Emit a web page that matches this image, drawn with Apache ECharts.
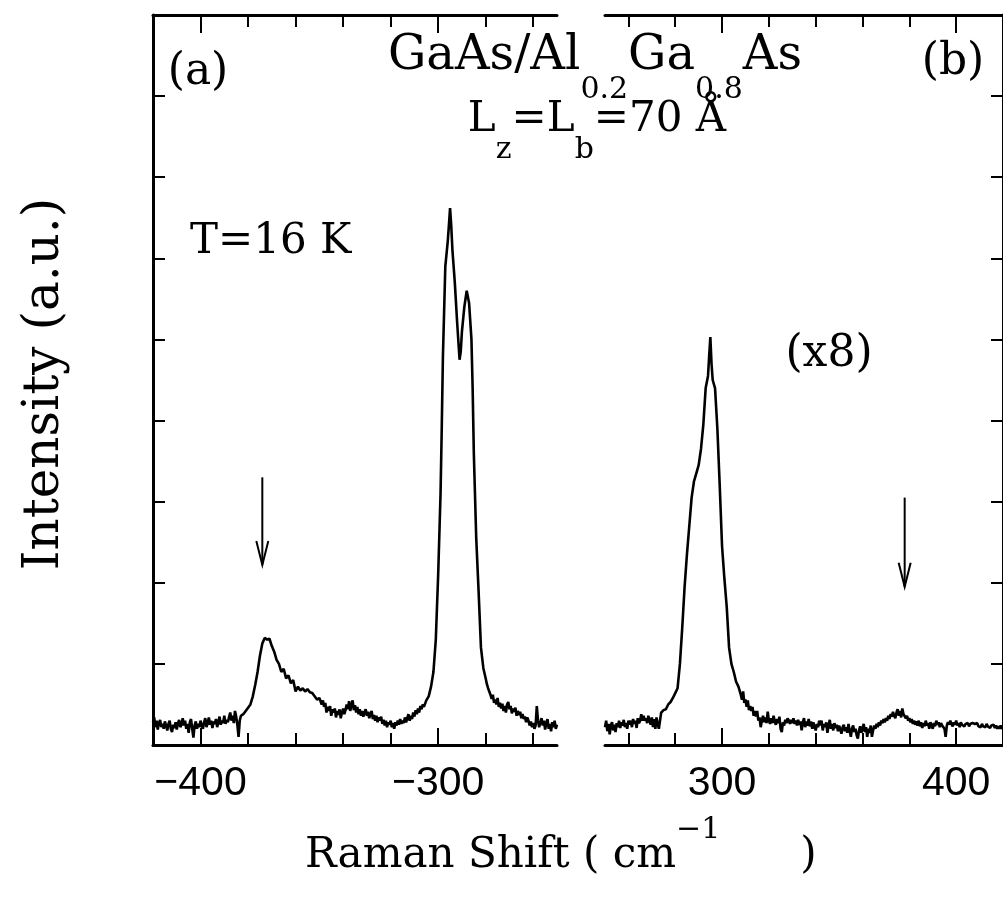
<!DOCTYPE html>
<html>
<head>
<meta charset="utf-8">
<script src="https://cdn.jsdelivr.net/npm/echarts@6/dist/echarts.min.js"></script>
<style>
html,body{margin:0;padding:0;background:#fff;}
#main{width:1003px;height:911px;}
</style>
</head>
<body>
<div id="main"></div>
<script>
// ---- data ----
// panel (a): anti-Stokes side, Raman shift (cm^-1) vs intensity (a.u.)
const spectrumA = [
[-420,0.28],[-419.5,0.34],[-419,0.22],[-418.5,0.3],[-418,0.19],[-417.5,0.27],[-417,0.31],[-416.5,0.22],[-416,0.26],[-415.5,0.2],
[-415,0.29],[-414.5,0.24],[-414,0.18],[-413.5,0.26],[-413,0.3],[-412.5,0.2],[-412,0.16],[-411.5,0.25],[-411,0.21],[-410.5,0.28],
[-410,0.19],[-409.5,0.27],[-409,0.31],[-408.5,0.22],[-408,0.25],[-407.5,0.33],[-407,0.24],[-406.5,0.3],[-406,0.2],[-405.5,0.26],
[-405,0.15],[-404.5,0.28],[-404,0.32],[-403.5,0.2],[-403,0.09],[-402.5,0.24],[-402,0.29],[-401.5,0.2],[-401,0.26],[-400.5,0.22],
[-400,0.3],[-399.5,0.24],[-399,0.2],[-398.5,0.28],[-398,0.33],[-397.5,0.22],[-397,0.27],[-396.5,0.34],[-396,0.25],[-395.5,0.3],
[-395,0.21],[-394.5,0.29],[-394,0.26],[-393.5,0.32],[-393,0.22],[-392.5,0.28],[-392,0.35],[-391.5,0.25],[-391,0.3],[-390.5,0.27],
[-390,0.36],[-389.5,0.26],[-389,0.31],[-388.5,0.28],[-388,0.34],[-387.5,0.4],[-387,0.3],[-386.5,0.36],[-386,0.27],[-385.5,0.42],
[-385,0.35],[-384.5,0.25],[-384,0.1],[-383.5,0.3],[-383,0.36],[-382,0.38],[-381,0.42],
[-380,0.46],[-379,0.5],[-378,0.6],[-377,0.74],[-376,0.9],[-375,1.1],[-374,1.25],[-373,1.32],[-372,1.3],[-371,1.31],
[-370,1.22],[-369,1.15],[-368,1.05],[-367,1.0],[-366,0.9],[-365,0.94],[-364,0.82],[-363,0.86],[-362,0.76],[-361,0.8],
[-360,0.66],[-359,0.72],[-358,0.67],[-357,0.7],[-356,0.66],[-355,0.69],[-354,0.65],[-353,0.64],[-352,0.6],[-351,0.56],
[-350,0.58],[-349,0.5],[-348.5,0.55],[-348,0.47],[-347.5,0.52],[-347,0.4],[-346.5,0.47],[-346,0.42],[-345.5,0.48],[-345,0.36],
[-344.5,0.44],[-344,0.4],[-343.5,0.45],[-343,0.34],[-342.5,0.42],[-342,0.37],[-341.5,0.44],[-341,0.33],[-340.5,0.4],[-340,0.45],
[-339.5,0.38],[-339,0.43],[-338.5,0.5],[-338,0.44],[-337.5,0.54],[-337,0.42],[-336.5,0.5],[-336,0.55],[-335.5,0.43],[-335,0.49],
[-334.5,0.4],[-334,0.47],[-333.5,0.38],[-333,0.44],[-332.5,0.36],[-332,0.42],[-331.5,0.35],[-331,0.4],[-330.5,0.44],[-330,0.36],
[-329.5,0.41],[-329,0.33],[-328.5,0.38],[-328,0.42],[-327.5,0.32],[-327,0.37],[-326.5,0.3],[-326,0.36],[-325.5,0.28],[-325,0.34],
[-324.5,0.3],[-324,0.35],[-323.5,0.26],[-323,0.31],[-322.5,0.24],[-322,0.3],[-321.5,0.22],[-321,0.28],[-320.5,0.25],[-320,0.3],
[-319.5,0.22],[-319,0.27],[-318.5,0.2],[-318,0.28],[-317.5,0.24],[-317,0.3],[-316.5,0.25],[-316,0.32],[-315.5,0.26],[-315,0.3],
[-314.5,0.27],[-314,0.34],[-313.5,0.28],[-313,0.33],[-312.5,0.38],[-312,0.3],[-311.5,0.36],[-311,0.32],[-310.5,0.4],[-310,0.35],
[-309.5,0.43],[-309,0.38],[-308.5,0.45],[-308,0.4],[-307.5,0.48],[-307,0.44],[-306.5,0.5],[-306,0.47],
[-305,0.55],[-304,0.6],[-303,0.72],[-302,0.9],[-301,1.3],
[-300,2.1],[-299,3.1],[-298.5,3.9],[-298,4.8],[-297,5.9],[-296,6.2],[-295.5,6.4],[-295,6.62],[-294.5,6.4],[-294,6.1],
[-293,5.7],[-292,5.2],[-291,4.75],[-290.5,4.85],[-290,5.1],[-289,5.4],[-288,5.6],[-287,5.45],[-286,5.0],[-285.5,4.4],
[-285,3.6],[-284,2.56],[-283,1.9],[-282,1.2],[-281,0.95],
[-280,0.82],[-279.5,0.75],[-279,0.7],[-278.5,0.66],[-278,0.62],[-277.5,0.57],[-277,0.62],[-276.5,0.52],[-276,0.56],[-275.5,0.5],
[-275,0.58],[-274.5,0.47],[-274,0.52],[-273.5,0.45],[-273,0.51],[-272.5,0.42],[-272,0.48],[-271.5,0.4],[-271,0.5],[-270.5,0.53],
[-270,0.44],[-269.5,0.48],[-269,0.39],[-268.5,0.45],[-268,0.41],[-267.5,0.46],[-267,0.36],[-266.5,0.42],[-266,0.37],[-265.5,0.41],
[-265,0.33],[-264.5,0.38],[-264,0.32],[-263.5,0.35],[-263,0.28],[-262.5,0.34],[-262,0.3],[-261.5,0.24],[-261,0.29],[-260.5,0.22],
[-260,0.27],[-259.5,0.2],[-259,0.24],[-258.5,0.48],[-258,0.3],[-257.5,0.22],[-257,0.28],[-256.5,0.33],[-256,0.24],[-255.5,0.3],
[-255,0.19],[-254.5,0.27],[-254,0.32],[-253.5,0.2],[-253,0.26],[-252.5,0.17],[-252,0.28],[-251.5,0.22],[-251,0.3],[-250.5,0.2],
[-250,0.25]
];
// panel (b): Stokes side (x8)
const spectrumB = [
[250,0.22],[250.5,0.3],[251,0.17],[251.5,0.26],[252,0.13],[252.5,0.24],[253,0.28],[253.5,0.18],[254,0.25],[254.5,0.16],
[255,0.27],[255.5,0.22],[256,0.3],[256.5,0.21],[257,0.28],[257.5,0.24],[258,0.31],[258.5,0.22],[259,0.27],[259.5,0.2],
[260,0.3],[260.5,0.25],[261,0.3],[261.5,0.22],[262,0.32],[262.5,0.26],[263,0.3],[263.5,0.21],[264,0.33],[264.5,0.27],
[265,0.3],[265.5,0.38],[266,0.3],[266.5,0.36],[267,0.3],[267.5,0.33],[268,0.27],[268.5,0.36],[269,0.3],[269.5,0.25],
[270,0.34],[270.5,0.22],[271,0.32],[271.5,0.2],[272,0.34],[272.5,0.26],[273,0.2],[273.5,0.3],[274,0.4],
[275,0.43],[276,0.44],[277,0.5],[278,0.53],[279,0.58],
[280,0.64],[281,0.7],[282,1.0],[283,1.45],[284,1.95],[285,2.35],[286,2.7],[287,3.05],[288,3.25],[289,3.35],
[290,3.45],[291,3.65],[292,3.95],[293,4.4],[294,4.55],[294.5,4.8],[295,5.03],[295.5,4.7],[296,4.5],[297,4.4],
[298,3.9],[299,3.2],[300,2.45],[301,2.05],[302,1.7],[303,1.2],[304,1.0],[305,0.9],[306,0.78],[307,0.72],
[308,0.62],[308.5,0.56],[309,0.66],[309.5,0.52],[310,0.56],[310.5,0.47],[311,0.55],[311.5,0.43],[312,0.48],[312.5,0.42],
[313,0.47],[313.5,0.36],[314,0.42],[314.5,0.35],[315,0.42],[315.5,0.3],[316,0.34],[316.5,0.22],[317,0.3],[317.5,0.36],
[318,0.28],[318.5,0.34],[319,0.27],[319.5,0.41],[320,0.3],[320.5,0.26],[321,0.33],[321.5,0.27],[322,0.36],[322.5,0.29],
[323,0.25],[323.5,0.32],[324,0.27],[324.5,0.35],[325,0.2],[325.5,0.16],[326,0.28],[326.5,0.24],[327,0.31],[327.5,0.27],
[328,0.33],[328.5,0.3],[329,0.26],[329.5,0.31],[330,0.27],[330.5,0.33],[331,0.26],[331.5,0.3],[332,0.24],[332.5,0.31],
[333,0.25],[333.5,0.29],[334,0.18],[334.5,0.28],[335,0.33],[335.5,0.22],[336,0.29],[336.5,0.24],[337,0.32],[337.5,0.23],
[338,0.29],[338.5,0.2],[339,0.28],[339.5,0.22],[340,0.18],[340.5,0.26],[341,0.22],[341.5,0.3],[342,0.24],[342.5,0.3],
[343,0.18],[343.5,0.26],[344,0.22],[344.5,0.28],[345,0.15],[345.5,0.24],[346,0.31],[346.5,0.2],[347,0.26],[347.5,0.18],
[348,0.27],[348.5,0.21],[349,0.25],[349.5,0.17],[350,0.24],[350.5,0.19],[351,0.14],[351.5,0.22],[352,0.25],[352.5,0.17],
[353,0.22],[353.5,0.15],[354,0.26],[354.5,0.18],[355,0.1],[355.5,0.2],[356,0.24],[356.5,0.16],[357,0.2],[357.5,0.12],
[358,0.08],[358.5,0.18],[359,0.23],[359.5,0.15],[360,0.2],[360.5,0.26],[361,0.16],[361.5,0.22],[362,0.1],[362.5,0.2],
[363,0.15],[363.5,0.24],[364,0.1],[364.5,0.18],[365,0.24],[365.5,0.2],[366,0.26],[366.5,0.22],[367,0.28],[367.5,0.24],
[368,0.3],[368.5,0.27],[369,0.32],[369.5,0.28],[370,0.33],[370.5,0.3],[371,0.36],[371.5,0.32],[372,0.38],[372.5,0.35],
[373,0.41],[373.5,0.36],[374,0.33],[374.5,0.4],[375,0.44],[375.5,0.36],[376,0.42],[376.5,0.34],[377,0.45],[377.5,0.38],
[378,0.4],[378.5,0.33],[379,0.36],[379.5,0.3],[380,0.33],[380.5,0.28],[381,0.32],[381.5,0.26],[382,0.3],[382.5,0.25],
[383,0.29],[383.5,0.24],[384,0.3],[384.5,0.23],[385,0.28],[385.5,0.21],[386,0.27],[386.5,0.23],[387,0.3],[387.5,0.24],
[388,0.27],[388.5,0.2],[389,0.28],[389.5,0.24],[390,0.2],[390.5,0.27],[391,0.23],[391.5,0.3],[392,0.25],[392.5,0.28],
[393,0.22],[393.5,0.27],[394,0.24],[394.5,0.26],[395,0.2],[395.5,0.1],[396,0.24],[396.5,0.28],[397,0.25],[397.5,0.3],
[398,0.26],[398.5,0.23],[399,0.28],[399.5,0.25],[400,0.3],[400.5,0.24],[401,0.27],[401.5,0.22],[402,0.28],[402.5,0.25],
[403,0.27],[403.5,0.23],[404,0.26],[404.5,0.24],[405,0.27],[405.5,0.23],[406,0.26],[406.5,0.24],[407,0.27],[407.5,0.25],
[408,0.26],[408.5,0.24],[409,0.27],[409.5,0.23],[410,0.25],[410.5,0.22],[411,0.26],[411.5,0.23],[412,0.25],[412.5,0.22],
[413,0.26],[413.5,0.23],[414,0.25],[414.5,0.21],[415,0.24],[415.5,0.22],[416,0.25],[416.5,0.21],[417,0.24],[417.5,0.2],
[418,0.23],[418.5,0.2],[419,0.24],[419.5,0.2],[420,0.22]
];
// arrows: [shift, yStart, yTip]
const arrowsA = [[-374, 3.3, 2.22]];
const arrowsB = [[378, 3.05, 1.95]];
// axis ranges and ticks
const rangeA = [-420, -250];
const rangeB = [250, 420];
const majorTicksA = [-400, -300];
const minorTicksA = [-380, -360, -340, -320, -280, -260];
const majorTicksB = [300, 400];
const minorTicksB = [260, 280, 320, 340, 360, 380];
const yRange = [0, 9];

// ---- chart ----
const chart = echarts.init(document.getElementById('main'), null, {renderer: 'canvas'});
const BLACK = '#000';
const serif = 'DejaVu Serif';

function xAx(grid, range, pos, ticks, len, showLine, labels) {
  return {
    type: 'value', gridIndex: grid, position: pos, min: range[0], max: range[1],
    axisLine: {show: showLine, lineStyle: {color: BLACK, width: 3}},
    axisTick: {show: true, inside: true, length: len, customValues: ticks, lineStyle: {color: BLACK, width: 2}},
    axisLabel: labels ? {
      show: true, customValues: ticks, color: BLACK, fontSize: 41, fontFamily: 'Liberation Sans', margin: 18,
      formatter: v => (v < 0 ? '\u2212' + Math.abs(v) : String(v))
    } : {show: false},
    splitLine: {show: false}, minorTick: {show: false}
  };
}
function yAx(grid, pos) {
  return {
    type: 'value', gridIndex: grid, position: pos, min: yRange[0], max: yRange[1], interval: 1,
    axisLine: {show: true, lineStyle: {color: BLACK, width: 3}},
    axisTick: {show: true, inside: true, length: 12, lineStyle: {color: BLACK, width: 2}},
    axisLabel: {show: false}, splitLine: {show: false}
  };
}
function arrowItem(params, api) {
  const x = api.value(0);
  const p1 = api.coord([x, api.value(1)]);
  const p2 = api.coord([x, api.value(2)]);
  return {
    type: 'group',
    children: [
      {type: 'line', shape: {x1: p1[0], y1: p1[1], x2: p2[0], y2: p2[1]}, style: {stroke: BLACK, lineWidth: 2}},
      {type: 'polyline', shape: {points: [[p2[0] - 6, p2[1] - 24], [p2[0], p2[1]], [p2[0] + 6, p2[1] - 24]]},
       style: {stroke: BLACK, lineWidth: 2, fill: null}}
    ]
  };
}

const option = {
  animation: false,
  backgroundColor: '#fff',
  grid: [
    {left: 153, top: 15, width: 404, height: 730},
    {left: 605, top: 15, width: 401, height: 730}
  ],
  xAxis: [
    xAx(0, rangeA, 'bottom', majorTicksA, 17, true, true),
    xAx(0, rangeA, 'bottom', minorTicksA, 12, false, false),
    xAx(0, rangeA, 'top', majorTicksA, 18, true, false),
    xAx(0, rangeA, 'top', minorTicksA, 12, false, false),
    xAx(1, rangeB, 'bottom', majorTicksB, 17, true, true),
    xAx(1, rangeB, 'bottom', minorTicksB, 12, false, false),
    xAx(1, rangeB, 'top', majorTicksB, 18, true, false),
    xAx(1, rangeB, 'top', minorTicksB, 12, false, false)
  ],
  yAxis: [yAx(0, 'left'), yAx(1, 'right')],
  series: [
    {type: 'line', xAxisIndex: 0, yAxisIndex: 0, data: spectrumA, showSymbol: false, symbol: 'none',
     lineStyle: {color: BLACK, width: 2.6}, clip: true},
    {type: 'line', xAxisIndex: 4, yAxisIndex: 1, data: spectrumB, showSymbol: false, symbol: 'none',
     lineStyle: {color: BLACK, width: 2.6}, clip: true},
    {type: 'custom', xAxisIndex: 0, yAxisIndex: 0, data: arrowsA, renderItem: arrowItem, clip: false},
    {type: 'custom', xAxisIndex: 4, yAxisIndex: 1, data: arrowsB, renderItem: arrowItem, clip: false}
  ],
  graphic: [
    {type: 'text', x: 198, y: 73, style: {text: '(a)', fill: BLACK, fontSize: 44, fontFamily: serif, textAlign: 'center', textVerticalAlign: 'middle'}},
    {type: 'text', x: 953, y: 63, style: {text: '(b)', fill: BLACK, fontSize: 44, fontFamily: serif, textAlign: 'center', textVerticalAlign: 'middle'}},
    {type: 'text', x: 595, y: 33, style: {
      text: '{m|GaAs/Al}{s|0.2}{m|Ga}{s|0.8}{m|As}', textAlign: 'center', textVerticalAlign: 'top',
      rich: {
        m: {fontSize: 48, fontFamily: serif, fill: BLACK, color: BLACK, lineHeight: 72, verticalAlign: 'top'},
        s: {fontSize: 30, fontFamily: serif, fill: BLACK, color: BLACK, lineHeight: 30, verticalAlign: 'bottom'}
      }}},
    {type: 'text', x: 597, y: 99, style: {
      text: '{m|L}{s|z}{m|=L}{s|b}{m|=70 \u00C5}', textAlign: 'center', textVerticalAlign: 'top',
      rich: {
        m: {fontSize: 42, fontFamily: serif, fill: BLACK, color: BLACK, lineHeight: 66, verticalAlign: 'top'},
        s: {fontSize: 30, fontFamily: serif, fill: BLACK, color: BLACK, lineHeight: 30, verticalAlign: 'bottom'}
      }}},
    {type: 'text', x: 190, y: 242, style: {text: 'T=16 K', fill: BLACK, fontSize: 42, fontFamily: serif, textAlign: 'left', textVerticalAlign: 'middle'}},
    {type: 'text', x: 829, y: 355, style: {text: '(x8)', fill: BLACK, fontSize: 44, fontFamily: serif, textAlign: 'center', textVerticalAlign: 'middle'}},
    {type: 'text', x: 45, y: 384, rotation: Math.PI / 2, style: {text: 'Intensity (a.u.)', fill: BLACK, fontSize: 50, fontFamily: serif, textAlign: 'center', textVerticalAlign: 'middle'}},
    {type: 'text', x: 305, y: 815, style: {
      text: '{m|Raman Shift ( cm}{s|\u22121}{m|      )}', textAlign: 'left', textVerticalAlign: 'top',
      rich: {
        m: {fontSize: 42, fontFamily: serif, fill: BLACK, color: BLACK, lineHeight: 62, verticalAlign: 'bottom'},
        s: {fontSize: 30, fontFamily: serif, fill: BLACK, color: BLACK, lineHeight: 30, verticalAlign: 'top'}
      }}}
  ]
};
chart.setOption(option);
</script>
</body>
</html>
